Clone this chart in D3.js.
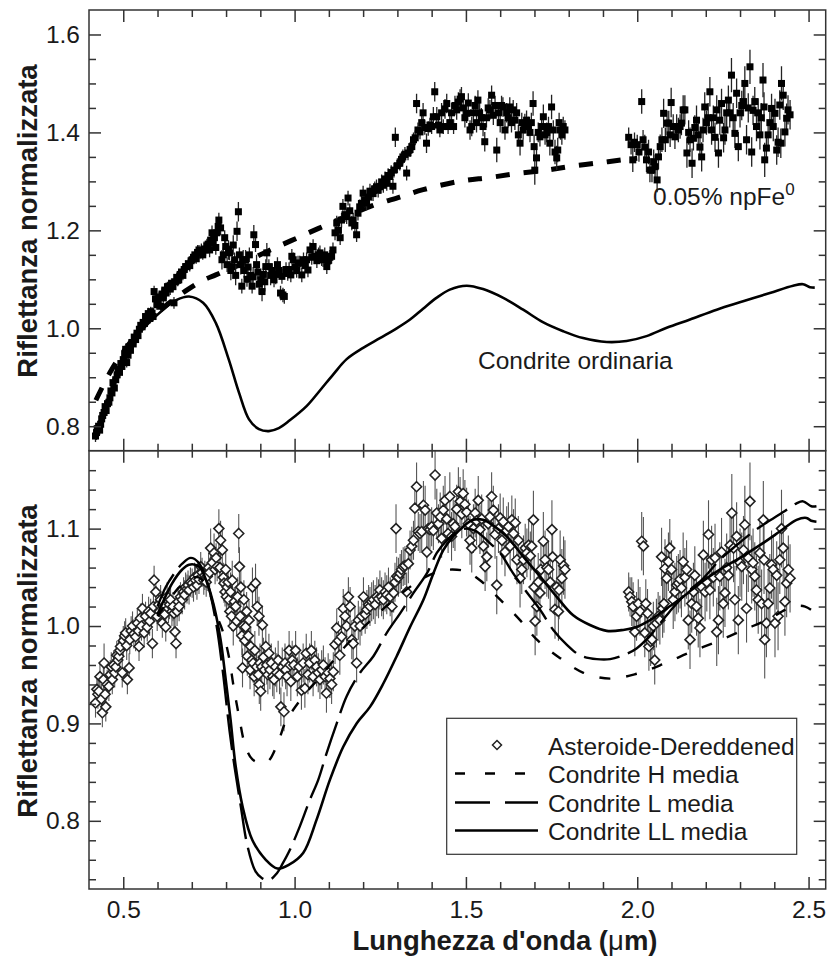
<!DOCTYPE html>
<html><head><meta charset="utf-8">
<script src="https://cdn.jsdelivr.net/npm/d3@7"></script>
<style>
body{margin:0;background:#fff}
svg{display:block}
text{font-family:"Liberation Sans",Arial,Helvetica,sans-serif;fill:#1a1a1a}
</style>
</head><body>
<svg id="c" width="827" height="965"></svg>
<script>
// ---------- tick values ----------
const xMajor=[0.5,1.0,1.5,2.0,2.5];
const xMinor=[0.6,0.7,0.8,0.9,1.1,1.2,1.3,1.4,1.6,1.7,1.8,1.9,2.1,2.2,2.3,2.4];
const yTopMajor=[0.8,1.0,1.2,1.4,1.6];
const yTopMinor=[0.85,0.9,0.95,1.05,1.1,1.15,1.25,1.3,1.35,1.45,1.5,1.55];
const yBotMajor=[0.8,0.9,1.0,1.1];
const yBotMinor=[0.74,0.76,0.78,0.82,0.84,0.86,0.88,0.92,0.94,0.96,0.98,1.02,1.04,1.06,1.08,1.12,1.14,1.16];

// ---------- top panel data [x, y, err] ----------
const topAsteroid=[
[0.419,0.780,0.012],[0.422,0.787,0.015],[0.424,0.795,0.01],[0.428,0.800,0.012],[0.431,0.792,0.01],[0.434,0.804,0.012],[0.437,0.815,0.01],[0.440,0.822,0.012],[0.444,0.828,0.01],[0.447,0.840,0.012],[0.450,0.832,0.01],[0.454,0.846,0.012],[0.458,0.849,0.01],[0.461,0.858,0.012],[0.464,0.872,0.01],[0.467,0.868,0.012],[0.470,0.889,0.01],[0.474,0.878,0.012],[0.478,0.895,0.01],[0.482,0.905,0.012],[0.485,0.916,0.01],[0.489,0.910,0.012],[0.493,0.928,0.01],[0.496,0.922,0.012],[0.500,0.936,0.01],[0.504,0.948,0.01],[0.507,0.957,0.012],[0.510,0.930,0.01],[0.514,0.945,0.01],[0.518,0.962,0.012],[0.521,0.955,0.01],[0.525,0.971,0.01],[0.529,0.968,0.012],[0.532,0.982,0.01],[0.536,0.977,0.01],[0.540,0.990,0.012],[0.543,0.985,0.01],[0.547,0.998,0.01],[0.551,1.006,0.012],[0.555,1.003,0.01],[0.558,1.012,0.01],[0.562,1.010,0.012],[0.565,1.024,0.01],[0.569,1.017,0.01],[0.573,1.030,0.012],[0.577,1.020,0.01],[0.580,1.034,0.01],[0.584,1.031,0.012],[0.587,1.024,0.01],[0.590,1.075,0.012],[0.594,1.060,0.01],[0.598,1.048,0.01],[0.602,1.055,0.012],[0.605,1.064,0.01],[0.609,1.045,0.01],[0.613,1.070,0.012],[0.617,1.062,0.01],[0.621,1.078,0.01],[0.625,1.072,0.012],[0.629,1.085,0.01],[0.633,1.086,0.01],[0.637,1.080,0.012],[0.641,1.092,0.01],[0.645,1.085,0.01],[0.648,1.052,0.012],[0.652,1.095,0.01],[0.656,1.104,0.01],[0.659,1.098,0.012],[0.662,1.099,0.01],[0.666,1.110,0.01],[0.670,1.115,0.012],[0.674,1.108,0.01],[0.678,1.120,0.01],[0.682,1.126,0.012],[0.686,1.126,0.01],[0.690,1.132,0.01],[0.694,1.128,0.012],[0.698,1.138,0.01],[0.701,1.140,0.012],[0.705,1.145,0.01],[0.709,1.150,0.012],[0.713,1.142,0.01],[0.717,1.155,0.015],[0.721,1.160,0.01],[0.724,1.154,0.012],[0.728,1.158,0.015],[0.732,1.150,0.01],[0.736,1.162,0.015],[0.740,1.160,0.012],[0.744,1.168,0.015],[0.748,1.172,0.012],[0.752,1.160,0.015],[0.755,1.180,0.015],[0.759,1.195,0.015],[0.762,1.174,0.012],[0.766,1.185,0.015],[0.770,1.165,0.015],[0.773,1.195,0.015],[0.777,1.208,0.015],[0.779,1.221,0.015],[0.784,1.205,0.015],[0.788,1.140,0.02],[0.792,1.150,0.015],[0.796,1.185,0.015],[0.799,1.167,0.02],[0.803,1.130,0.015],[0.807,1.160,0.02],[0.810,1.154,0.015],[0.814,1.118,0.02],[0.817,1.126,0.015],[0.821,1.170,0.02],[0.825,1.140,0.015],[0.828,1.108,0.02],[0.832,1.198,0.02],[0.836,1.238,0.02],[0.839,1.150,0.015],[0.843,1.130,0.02],[0.846,1.086,0.015],[0.850,1.140,0.02],[0.853,1.118,0.015],[0.857,1.140,0.02],[0.861,1.100,0.015],[0.864,1.125,0.02],[0.868,1.150,0.015],[0.872,1.108,0.02],[0.876,1.086,0.015],[0.879,1.105,0.02],[0.881,1.191,0.02],[0.886,1.171,0.015],[0.889,1.130,0.02],[0.893,1.115,0.015],[0.897,1.090,0.02],[0.901,1.099,0.015],[0.905,1.075,0.02],[0.909,1.110,0.015],[0.913,1.095,0.02],[0.916,1.126,0.015],[0.919,1.154,0.02],[0.925,1.126,0.015],[0.930,1.108,0.02],[0.935,1.118,0.015],[0.940,1.099,0.015],[0.945,1.110,0.02],[0.950,1.130,0.015],[0.955,1.118,0.015],[0.959,1.072,0.015],[0.963,1.106,0.015],[0.966,1.068,0.015],[0.970,1.065,0.015],[0.975,1.120,0.015],[0.980,1.112,0.015],[0.984,1.120,0.015],[0.989,1.109,0.015],[0.992,1.147,0.015],[0.996,1.140,0.015],[1.001,1.125,0.015],[1.006,1.118,0.015],[1.010,1.133,0.015],[1.015,1.133,0.015],[1.021,1.109,0.015],[1.026,1.140,0.015],[1.031,1.128,0.015],[1.035,1.140,0.015],[1.039,1.119,0.015],[1.045,1.160,0.015],[1.050,1.145,0.015],[1.054,1.167,0.015],[1.060,1.147,0.015],[1.065,1.138,0.015],[1.070,1.150,0.015],[1.074,1.154,0.015],[1.079,1.142,0.015],[1.083,1.140,0.015],[1.088,1.150,0.015],[1.094,1.126,0.015],[1.098,1.138,0.015],[1.103,1.145,0.015],[1.108,1.147,0.015],[1.112,1.160,0.015],[1.118,1.195,0.015],[1.123,1.215,0.015],[1.128,1.200,0.015],[1.133,1.185,0.015],[1.137,1.221,0.015],[1.141,1.249,0.015],[1.147,1.232,0.015],[1.152,1.228,0.015],[1.156,1.266,0.015],[1.161,1.240,0.015],[1.167,1.215,0.015],[1.171,1.221,0.015],[1.176,1.210,0.015],[1.181,1.191,0.015],[1.185,1.235,0.015],[1.190,1.248,0.015],[1.195,1.255,0.015],[1.200,1.276,0.015],[1.205,1.262,0.015],[1.210,1.256,0.015],[1.215,1.268,0.015],[1.220,1.280,0.015],[1.225,1.276,0.015],[1.229,1.275,0.015],[1.234,1.285,0.015],[1.239,1.289,0.015],[1.244,1.282,0.015],[1.249,1.289,0.015],[1.254,1.299,0.015],[1.259,1.292,0.015],[1.264,1.305,0.015],[1.269,1.296,0.015],[1.273,1.312,0.015],[1.278,1.310,0.015],[1.282,1.318,0.015],[1.287,1.290,0.015],[1.290,1.323,0.015],[1.294,1.390,0.02],[1.300,1.332,0.015],[1.307,1.337,0.015],[1.312,1.345,0.015],[1.316,1.350,0.015],[1.322,1.355,0.015],[1.327,1.317,0.015],[1.331,1.358,0.015],[1.337,1.365,0.015],[1.342,1.371,0.015],[1.347,1.385,0.015],[1.352,1.389,0.015],[1.356,1.459,0.02],[1.360,1.405,0.015],[1.366,1.401,0.015],[1.371,1.420,0.015],[1.375,1.440,0.02],[1.380,1.410,0.015],[1.385,1.378,0.02],[1.390,1.408,0.015],[1.395,1.415,0.015],[1.400,1.412,0.015],[1.405,1.432,0.02],[1.409,1.483,0.02],[1.415,1.432,0.02],[1.420,1.415,0.015],[1.424,1.405,0.015],[1.429,1.440,0.02],[1.434,1.412,0.015],[1.439,1.448,0.02],[1.444,1.459,0.02],[1.448,1.412,0.015],[1.453,1.420,0.015],[1.458,1.440,0.02],[1.464,1.412,0.015],[1.468,1.455,0.02],[1.473,1.446,0.02],[1.478,1.462,0.02],[1.483,1.468,0.02],[1.487,1.473,0.02],[1.492,1.450,0.02],[1.497,1.430,0.02],[1.502,1.439,0.02],[1.507,1.460,0.02],[1.512,1.405,0.02],[1.517,1.412,0.02],[1.522,1.440,0.02],[1.527,1.455,0.02],[1.531,1.420,0.02],[1.535,1.466,0.02],[1.540,1.440,0.02],[1.545,1.430,0.02],[1.550,1.412,0.02],[1.555,1.381,0.02],[1.560,1.430,0.02],[1.565,1.450,0.02],[1.570,1.446,0.02],[1.575,1.476,0.02],[1.580,1.435,0.02],[1.585,1.455,0.02],[1.590,1.364,0.025],[1.595,1.440,0.02],[1.600,1.420,0.02],[1.604,1.455,0.02],[1.608,1.452,0.02],[1.614,1.405,0.02],[1.619,1.440,0.02],[1.623,1.430,0.02],[1.628,1.452,0.02],[1.633,1.420,0.02],[1.638,1.446,0.02],[1.643,1.425,0.02],[1.648,1.440,0.02],[1.653,1.395,0.02],[1.658,1.378,0.025],[1.663,1.420,0.02],[1.667,1.405,0.02],[1.672,1.418,0.02],[1.677,1.425,0.02],[1.682,1.412,0.02],[1.687,1.400,0.02],[1.691,1.420,0.02],[1.696,1.459,0.025],[1.699,1.371,0.025],[1.701,1.323,0.03],[1.706,1.348,0.025],[1.711,1.400,0.02],[1.716,1.391,0.02],[1.721,1.412,0.02],[1.726,1.432,0.025],[1.731,1.395,0.02],[1.736,1.400,0.02],[1.741,1.412,0.02],[1.745,1.378,0.025],[1.750,1.452,0.025],[1.755,1.405,0.02],[1.760,1.360,0.025],[1.765,1.348,0.025],[1.768,1.364,0.025],[1.772,1.420,0.02],[1.776,1.405,0.02],[1.780,1.395,0.02],[1.784,1.412,0.02],[1.789,1.405,0.02],
[1.975,1.390,0.02],[1.982,1.375,0.02],[1.987,1.344,0.025],[1.992,1.380,0.02],[2.000,1.375,0.02],[2.005,1.360,0.02],[2.013,1.463,0.025],[2.017,1.385,0.02],[2.022,1.370,0.025],[2.027,1.344,0.025],[2.033,1.360,0.025],[2.037,1.323,0.025],[2.043,1.323,0.025],[2.048,1.340,0.025],[2.052,1.330,0.025],[2.058,1.303,0.025],[2.062,1.350,0.025],[2.067,1.371,0.025],[2.072,1.385,0.025],[2.077,1.439,0.03],[2.082,1.385,0.025],[2.087,1.419,0.025],[2.092,1.419,0.025],[2.096,1.395,0.025],[2.099,1.461,0.03],[2.105,1.412,0.025],[2.110,1.391,0.025],[2.115,1.412,0.025],[2.120,1.405,0.025],[2.125,1.412,0.025],[2.129,1.419,0.025],[2.134,1.446,0.03],[2.139,1.446,0.03],[2.145,1.358,0.03],[2.150,1.400,0.025],[2.154,1.385,0.025],[2.160,1.337,0.03],[2.164,1.388,0.025],[2.168,1.410,0.025],[2.173,1.425,0.03],[2.178,1.395,0.025],[2.183,1.370,0.025],[2.188,1.350,0.03],[2.192,1.405,0.025],[2.197,1.452,0.03],[2.202,1.420,0.025],[2.207,1.430,0.03],[2.212,1.483,0.03],[2.217,1.405,0.03],[2.222,1.430,0.025],[2.227,1.390,0.03],[2.232,1.446,0.03],[2.237,1.358,0.03],[2.241,1.425,0.03],[2.246,1.459,0.03],[2.252,1.389,0.03],[2.256,1.405,0.03],[2.261,1.440,0.03],[2.266,1.466,0.03],[2.270,1.440,0.03],[2.275,1.517,0.035],[2.280,1.430,0.03],[2.285,1.398,0.03],[2.290,1.480,0.03],[2.295,1.371,0.03],[2.300,1.440,0.03],[2.305,1.455,0.03],[2.310,1.463,0.03],[2.314,1.500,0.035],[2.319,1.385,0.03],[2.324,1.450,0.03],[2.329,1.534,0.035],[2.334,1.360,0.03],[2.338,1.445,0.03],[2.343,1.463,0.03],[2.348,1.412,0.03],[2.353,1.440,0.03],[2.358,1.395,0.03],[2.362,1.430,0.03],[2.367,1.507,0.035],[2.370,1.452,0.03],[2.372,1.344,0.035],[2.377,1.368,0.03],[2.382,1.395,0.03],[2.387,1.420,0.03],[2.392,1.449,0.03],[2.397,1.412,0.03],[2.402,1.439,0.03],[2.407,1.364,0.03],[2.411,1.380,0.03],[2.416,1.456,0.03],[2.419,1.378,0.03],[2.421,1.500,0.035],[2.426,1.476,0.03],[2.431,1.401,0.03],[2.436,1.429,0.03],[2.440,1.446,0.03],[2.446,1.436,0.03]
];
const topChondrite=[[0.58,1.015],[0.62,1.040],[0.656,1.058],[0.692,1.065],[0.733,1.052],[0.770,1.011],[0.808,0.936],[0.838,0.868],[0.867,0.814],[0.896,0.794],[0.925,0.790],[0.954,0.796],[0.986,0.812],[1.035,0.841],[1.074,0.873],[1.113,0.906],[1.152,0.937],[1.200,0.960],[1.249,0.980],[1.298,1.000],[1.337,1.018],[1.375,1.040],[1.414,1.062],[1.453,1.079],[1.502,1.087],[1.550,1.080],[1.609,1.062],[1.667,1.038],[1.726,1.012],[1.784,0.994],[1.842,0.980],[1.911,0.972],[1.969,0.974],[2.027,0.984],[2.086,1.001],[2.154,1.018],[2.232,1.038],[2.309,1.055],[2.387,1.072],[2.455,1.087],[2.484,1.090],[2.504,1.084],[2.518,1.083]];
const topNpFe=[[0.42,0.853],[0.46,0.908],[0.50,0.952],[0.55,0.996],[0.60,1.032],[0.65,1.060],[0.69,1.080],[0.73,1.097],[0.77,1.109],[0.85,1.133],[0.92,1.157],[0.99,1.179],[1.07,1.204],[1.15,1.228],[1.225,1.250],[1.307,1.268],[1.375,1.283],[1.48,1.300],[1.57,1.308],[1.65,1.316],[1.726,1.322],[1.80,1.330],[1.89,1.338],[1.97,1.345],[2.00,1.347]];

// ---------- bottom panel data ----------
const botAsteroid=[
[0.419,0.921,0.015],[0.423,0.935,0.015],[0.426,0.930,0.015],[0.429,0.933,0.015],[0.432,0.948,0.015],[0.436,0.925,0.015],[0.439,0.911,0.015],[0.442,0.945,0.015],[0.444,0.962,0.02],[0.447,0.930,0.015],[0.449,0.917,0.015],[0.453,0.940,0.015],[0.458,0.938,0.015],[0.462,0.950,0.015],[0.465,0.958,0.015],[0.468,0.945,0.015],[0.472,0.960,0.015],[0.475,0.952,0.015],[0.478,0.958,0.015],[0.481,0.970,0.015],[0.484,0.965,0.015],[0.487,0.969,0.015],[0.490,0.975,0.015],[0.492,0.979,0.015],[0.497,0.952,0.015],[0.500,0.985,0.015],[0.504,0.990,0.015],[0.507,0.993,0.015],[0.510,0.980,0.015],[0.512,0.945,0.015],[0.517,0.957,0.015],[0.519,0.986,0.015],[0.523,0.995,0.015],[0.527,1.000,0.015],[0.531,0.992,0.015],[0.536,0.989,0.015],[0.541,1.003,0.015],[0.544,0.995,0.015],[0.546,0.979,0.015],[0.550,1.008,0.015],[0.553,1.000,0.015],[0.556,1.018,0.015],[0.561,0.993,0.015],[0.565,1.010,0.015],[0.570,0.999,0.015],[0.574,1.015,0.015],[0.577,1.005,0.015],[0.580,1.013,0.015],[0.585,0.982,0.015],[0.588,1.020,0.015],[0.590,1.047,0.015],[0.595,1.035,0.015],[0.599,1.010,0.015],[0.603,1.022,0.015],[0.606,1.015,0.015],[0.609,1.027,0.015],[0.614,1.003,0.015],[0.618,1.020,0.015],[0.621,1.012,0.015],[0.624,0.999,0.015],[0.628,1.030,0.015],[0.632,1.018,0.015],[0.635,1.022,0.015],[0.638,1.027,0.015],[0.642,1.015,0.015],[0.645,1.020,0.015],[0.648,1.013,0.015],[0.651,0.994,0.015],[0.654,0.982,0.015],[0.657,1.015,0.015],[0.660,1.025,0.015],[0.663,1.020,0.015],[0.667,1.030,0.015],[0.672,1.027,0.015],[0.676,1.035,0.015],[0.679,1.032,0.015],[0.682,1.040,0.015],[0.686,1.038,0.015],[0.689,1.042,0.015],[0.692,1.037,0.015],[0.696,1.045,0.015],[0.701,1.044,0.015],[0.705,1.040,0.015],[0.708,1.050,0.015],[0.711,1.047,0.015],[0.715,1.042,0.015],[0.718,1.052,0.015],[0.721,1.048,0.015],[0.726,1.061,0.015],[0.730,1.055,0.015],[0.735,1.047,0.015],[0.738,1.052,0.015],[0.742,1.045,0.015],[0.745,1.051,0.015],[0.749,1.060,0.015],[0.752,1.055,0.015],[0.755,1.080,0.02],[0.760,1.065,0.015],[0.765,1.075,0.02],[0.768,1.058,0.015],[0.771,1.070,0.015],[0.774,1.061,0.015],[0.779,1.100,0.02],[0.782,1.060,0.015],[0.784,1.088,0.02],[0.789,1.078,0.02],[0.792,1.050,0.015],[0.794,1.044,0.02],[0.797,1.035,0.015],[0.799,1.058,0.02],[0.801,1.030,0.015],[0.803,1.040,0.02],[0.806,1.045,0.015],[0.808,1.027,0.02],[0.811,1.015,0.015],[0.813,1.035,0.02],[0.816,1.010,0.015],[0.818,1.047,0.02],[0.821,1.000,0.02],[0.824,1.025,0.015],[0.828,1.020,0.02],[0.831,1.005,0.015],[0.834,1.030,0.02],[0.837,1.095,0.02],[0.839,1.061,0.02],[0.841,1.010,0.02],[0.843,1.040,0.02],[0.846,0.990,0.02],[0.848,0.957,0.02],[0.850,1.000,0.02],[0.852,1.027,0.02],[0.855,0.985,0.02],[0.857,0.999,0.02],[0.860,1.015,0.02],[0.862,0.969,0.02],[0.865,0.990,0.02],[0.867,1.006,0.02],[0.870,0.955,0.02],[0.872,0.979,0.02],[0.875,0.965,0.02],[0.877,1.040,0.02],[0.879,0.962,0.02],[0.882,0.948,0.02],[0.884,0.975,0.02],[0.886,1.044,0.02],[0.889,0.958,0.02],[0.891,1.020,0.02],[0.894,0.950,0.02],[0.896,1.010,0.02],[0.897,0.940,0.02],[0.899,0.962,0.02],[0.901,0.933,0.02],[0.904,0.958,0.02],[0.906,1.001,0.02],[0.909,0.968,0.02],[0.912,0.955,0.02],[0.916,0.979,0.02],[0.919,0.960,0.02],[0.922,0.950,0.02],[0.925,0.972,0.02],[0.928,0.955,0.02],[0.932,0.962,0.02],[0.936,0.948,0.02],[0.940,0.945,0.02],[0.944,0.958,0.02],[0.948,0.952,0.02],[0.952,0.965,0.02],[0.956,0.950,0.02],[0.960,0.917,0.02],[0.964,0.958,0.02],[0.969,0.912,0.02],[0.972,0.962,0.02],[0.974,0.955,0.02],[0.978,0.948,0.02],[0.984,0.975,0.02],[0.987,0.960,0.02],[0.989,0.943,0.02],[0.993,0.965,0.02],[0.998,0.960,0.02],[1.003,0.975,0.02],[1.008,0.948,0.02],[1.013,0.958,0.02],[1.020,0.934,0.02],[1.025,0.962,0.02],[1.030,0.936,0.02],[1.034,0.972,0.02],[1.039,0.950,0.02],[1.044,0.962,0.02],[1.049,0.975,0.02],[1.054,0.948,0.02],[1.059,0.965,0.02],[1.064,0.958,0.02],[1.069,0.952,0.02],[1.074,0.945,0.02],[1.079,0.955,0.02],[1.084,0.960,0.02],[1.089,0.948,0.02],[1.093,0.931,0.02],[1.098,0.952,0.02],[1.103,0.946,0.02],[1.108,0.940,0.02],[1.113,0.953,0.02],[1.118,0.981,0.02],[1.123,0.998,0.02],[1.128,0.985,0.02],[1.132,0.970,0.02],[1.137,0.989,0.02],[1.142,1.018,0.02],[1.147,1.010,0.02],[1.152,1.000,0.02],[1.157,1.030,0.02],[1.162,1.020,0.02],[1.167,0.986,0.02],[1.171,0.982,0.02],[1.176,1.000,0.02],[1.181,0.962,0.02],[1.186,1.006,0.02],[1.191,1.000,0.02],[1.196,1.010,0.02],[1.201,1.030,0.02],[1.206,1.012,0.02],[1.211,1.017,0.02],[1.216,1.022,0.02],[1.220,1.020,0.02],[1.225,1.025,0.02],[1.230,1.027,0.02],[1.235,1.022,0.02],[1.240,1.030,0.02],[1.245,1.028,0.02],[1.249,1.037,0.02],[1.254,1.030,0.02],[1.259,1.027,0.02],[1.264,1.035,0.02],[1.269,1.032,0.02],[1.274,1.040,0.02],[1.279,1.030,0.02],[1.284,1.020,0.02],[1.289,1.034,0.02],[1.293,1.045,0.02],[1.296,1.100,0.025],[1.298,1.051,0.02],[1.303,1.050,0.02],[1.308,1.054,0.02],[1.312,1.058,0.02],[1.317,1.061,0.02],[1.322,1.062,0.02],[1.327,1.035,0.02],[1.332,1.064,0.02],[1.337,1.078,0.02],[1.342,1.082,0.02],[1.347,1.088,0.02],[1.351,1.121,0.025],[1.356,1.143,0.025],[1.361,1.097,0.02],[1.366,1.095,0.02],[1.371,1.097,0.02],[1.376,1.124,0.025],[1.381,1.119,0.025],[1.386,1.076,0.02],[1.390,1.100,0.02],[1.395,1.099,0.02],[1.400,1.102,0.02],[1.405,1.098,0.02],[1.410,1.155,0.025],[1.415,1.116,0.025],[1.420,1.105,0.02],[1.425,1.112,0.025],[1.429,1.090,0.02],[1.434,1.119,0.025],[1.439,1.129,0.025],[1.444,1.110,0.025],[1.448,1.095,0.02],[1.453,1.133,0.025],[1.458,1.092,0.025],[1.463,1.105,0.025],[1.468,1.102,0.025],[1.473,1.120,0.025],[1.478,1.138,0.025],[1.483,1.128,0.025],[1.488,1.115,0.025],[1.492,1.136,0.025],[1.497,1.125,0.025],[1.502,1.117,0.025],[1.507,1.105,0.025],[1.512,1.088,0.025],[1.517,1.080,0.025],[1.522,1.100,0.025],[1.527,1.116,0.025],[1.531,1.108,0.025],[1.536,1.129,0.025],[1.541,1.099,0.025],[1.546,1.110,0.025],[1.551,1.082,0.025],[1.556,1.061,0.025],[1.561,1.071,0.025],[1.565,1.105,0.025],[1.570,1.112,0.025],[1.575,1.133,0.025],[1.580,1.119,0.025],[1.585,1.094,0.025],[1.590,1.042,0.03],[1.595,1.100,0.025],[1.600,1.111,0.025],[1.605,1.088,0.025],[1.609,1.107,0.025],[1.614,1.076,0.025],[1.619,1.098,0.025],[1.624,1.102,0.025],[1.629,1.082,0.025],[1.634,1.109,0.025],[1.639,1.095,0.025],[1.644,1.106,0.025],[1.649,1.068,0.025],[1.653,1.088,0.025],[1.658,1.049,0.03],[1.663,1.058,0.025],[1.668,1.068,0.025],[1.673,1.080,0.025],[1.678,1.075,0.025],[1.683,1.083,0.025],[1.688,1.072,0.025],[1.692,1.082,0.025],[1.697,1.109,0.03],[1.699,1.040,0.03],[1.702,1.005,0.035],[1.707,1.020,0.03],[1.711,1.045,0.03],[1.716,1.034,0.03],[1.719,1.058,0.03],[1.726,1.087,0.03],[1.731,1.068,0.03],[1.736,1.060,0.03],[1.741,1.058,0.03],[1.746,1.045,0.03],[1.751,1.099,0.03],[1.753,1.071,0.03],[1.760,1.017,0.03],[1.765,1.040,0.03],[1.770,1.015,0.03],[1.772,1.037,0.03],[1.775,1.068,0.03],[1.780,1.049,0.03],[1.785,1.062,0.03],[1.789,1.058,0.03],
[1.975,1.035,0.02],[1.979,1.030,0.02],[1.984,1.025,0.025],[1.988,1.020,0.025],[1.993,0.994,0.025],[1.998,1.010,0.025],[2.003,1.023,0.025],[2.008,1.015,0.025],[2.013,1.087,0.03],[2.018,1.082,0.03],[2.022,0.993,0.025],[2.025,1.023,0.025],[2.030,1.013,0.025],[2.034,0.979,0.025],[2.039,0.984,0.025],[2.043,0.986,0.025],[2.047,1.000,0.025],[2.051,0.965,0.025],[2.056,1.003,0.025],[2.061,1.010,0.025],[2.066,1.006,0.025],[2.071,1.071,0.03],[2.074,1.018,0.03],[2.078,1.023,0.03],[2.081,1.059,0.03],[2.086,1.049,0.03],[2.091,1.066,0.03],[2.095,1.080,0.03],[2.100,1.058,0.03],[2.105,1.027,0.03],[2.110,1.035,0.03],[2.115,1.042,0.03],[2.120,1.044,0.03],[2.125,1.048,0.03],[2.129,1.039,0.03],[2.134,1.066,0.03],[2.139,1.050,0.03],[2.144,1.058,0.03],[2.149,1.006,0.03],[2.154,0.986,0.03],[2.159,1.023,0.03],[2.164,1.035,0.03],[2.168,1.052,0.03],[2.173,1.020,0.03],[2.178,1.008,0.03],[2.183,0.998,0.03],[2.188,1.040,0.03],[2.193,1.073,0.035],[2.198,1.035,0.03],[2.203,1.045,0.03],[2.208,1.094,0.035],[2.212,1.037,0.03],[2.217,1.068,0.035],[2.222,1.050,0.03],[2.227,1.070,0.035],[2.232,0.994,0.035],[2.237,1.006,0.035],[2.241,1.051,0.035],[2.246,1.076,0.035],[2.251,1.023,0.035],[2.256,1.034,0.035],[2.261,1.060,0.035],[2.266,1.052,0.035],[2.271,1.083,0.035],[2.276,1.116,0.04],[2.281,1.080,0.035],[2.285,1.027,0.035],[2.290,1.092,0.035],[2.295,1.006,0.035],[2.300,1.065,0.035],[2.305,1.061,0.035],[2.310,1.078,0.035],[2.314,1.104,0.04],[2.319,1.018,0.035],[2.324,1.070,0.035],[2.329,1.128,0.04],[2.334,1.058,0.035],[2.338,1.065,0.035],[2.343,1.051,0.035],[2.348,1.037,0.035],[2.353,1.027,0.035],[2.358,1.075,0.035],[2.363,1.023,0.035],[2.368,1.109,0.04],[2.370,1.068,0.035],[2.372,0.986,0.04],[2.377,1.003,0.035],[2.382,1.023,0.035],[2.387,1.039,0.035],[2.392,1.063,0.035],[2.397,1.058,0.035],[2.402,1.003,0.035],[2.407,1.052,0.035],[2.411,1.010,0.035],[2.416,1.068,0.035],[2.421,1.100,0.04],[2.426,1.080,0.035],[2.431,1.025,0.035],[2.436,1.044,0.035],[2.441,1.058,0.035],[2.446,1.049,0.035]
];
const botH=[[0.60,1.010],[0.64,1.030],[0.68,1.045],[0.72,1.050],[0.75,1.035],[0.77,1.013],[0.789,0.996],[0.808,0.969],[0.822,0.938],[0.838,0.907],[0.857,0.876],[0.877,0.863],[0.906,0.859],[0.925,0.862],[0.954,0.883],[0.974,0.902],[0.996,0.914],[1.03,0.930],[1.08,0.950],[1.15,0.980],[1.22,1.005],[1.30,1.030],[1.37,1.048],[1.42,1.056],[1.46,1.058],[1.50,1.056],[1.541,1.047],[1.60,1.027],[1.658,1.006],[1.707,0.986],[1.775,0.967],[1.843,0.952],[1.921,0.946],[1.998,0.951],[2.076,0.961],[2.154,0.973],[2.232,0.984],[2.31,0.996],[2.377,1.006],[2.455,1.020],[2.49,1.020],[2.514,1.015]];
const botL=[[0.60,1.020],[0.624,1.040],[0.653,1.056],[0.672,1.064],[0.697,1.070],[0.72,1.065],[0.745,1.045],[0.77,1.005],[0.79,0.955],[0.81,0.893],[0.825,0.855],[0.843,0.815],[0.862,0.775],[0.886,0.748],[0.905,0.741],[0.925,0.739],[0.948,0.746],[0.965,0.756],[0.986,0.770],[1.015,0.794],[1.044,0.821],[1.069,0.842],[1.093,0.869],[1.123,0.900],[1.152,0.928],[1.191,0.952],[1.23,0.969],[1.269,0.993],[1.308,1.013],[1.347,1.034],[1.386,1.054],[1.415,1.075],[1.444,1.088],[1.473,1.097],[1.502,1.100],[1.531,1.097],[1.57,1.085],[1.60,1.075],[1.638,1.054],[1.677,1.035],[1.716,1.017],[1.755,0.996],[1.794,0.981],[1.833,0.970],[1.882,0.966],[1.921,0.966],[1.959,0.970],[1.998,0.977],[2.037,0.990],[2.095,1.015],[2.144,1.034],[2.193,1.049],[2.241,1.068],[2.29,1.083],[2.339,1.097],[2.377,1.106],[2.426,1.117],[2.465,1.126],[2.484,1.128],[2.508,1.123],[2.523,1.123]];
const botLL=[[0.60,1.012],[0.643,1.044],[0.672,1.058],[0.692,1.063],[0.721,1.061],[0.745,1.044],[0.765,1.020],[0.784,0.986],[0.799,0.945],[0.813,0.904],[0.828,0.856],[0.848,0.815],[0.877,0.780],[0.916,0.760],[0.95,0.751],[0.984,0.755],[1.025,0.767],[1.064,0.801],[1.103,0.842],[1.142,0.876],[1.181,0.900],[1.22,0.917],[1.259,0.941],[1.298,0.969],[1.337,0.999],[1.376,1.027],[1.405,1.054],[1.434,1.078],[1.463,1.092],[1.492,1.102],[1.521,1.109],[1.55,1.109],[1.58,1.103],[1.619,1.092],[1.668,1.071],[1.716,1.051],[1.765,1.030],[1.813,1.011],[1.862,1.001],[1.911,0.995],[1.959,0.996],[1.998,0.999],[2.037,1.006],[2.086,1.018],[2.134,1.030],[2.183,1.044],[2.241,1.058],[2.30,1.070],[2.358,1.083],[2.416,1.097],[2.465,1.109],[2.494,1.111],[2.508,1.108],[2.523,1.107]];

const legendLabels=["Asteroide-Dereddened","Condrite H media","Condrite L media","Condrite LL media"];

// ---------- layout ----------
const L=89, R=825.7, T1=10, B1=450.7, T2=450.7, B2=889;
const x=d3.scaleLinear().domain([0.4,2.55]).range([L,R]);
const yTop=d3.scaleLinear().domain([0.75,1.65]).range([B1,T1]);
const yBot=d3.scaleLinear().domain([0.73,1.18]).range([B2,T2]);
const svg=d3.select("#c");
const fmt=d3.format(".1f");
const AX="#333";
const FF='"Liberation Sans",Arial,Helvetica,sans-serif';

function styleAxis(g){
  g.select(".domain").remove();
  g.selectAll(".tick line").attr("stroke",AX).attr("stroke-width",1.5);
  g.selectAll(".tick text").attr("font-size",24.5).attr("fill","#1a1a1a").attr("font-family",FF);
}
function panelAxes(y, yMaj, yMin, top, bot, labelsX){
  svg.append("g").attr("transform",`translate(${L},0)`)
    .call(d3.axisLeft(y).tickValues(yMaj).tickSize(-12).tickSizeOuter(0).tickPadding(9).tickFormat(fmt)).call(styleAxis);
  svg.append("g").attr("transform",`translate(${L},0)`)
    .call(d3.axisLeft(y).tickValues(yMin).tickSize(-7).tickSizeOuter(0).tickFormat("")).call(styleAxis);
  svg.append("g").attr("transform",`translate(${R},0)`)
    .call(d3.axisRight(y).tickValues(yMaj).tickSize(-12).tickSizeOuter(0).tickFormat("")).call(styleAxis);
  svg.append("g").attr("transform",`translate(${R},0)`)
    .call(d3.axisRight(y).tickValues(yMin).tickSize(-7).tickSizeOuter(0).tickFormat("")).call(styleAxis);
  svg.append("g").attr("transform",`translate(0,${top})`)
    .call(d3.axisTop(x).tickValues(xMajor).tickSize(-12).tickSizeOuter(0).tickFormat("")).call(styleAxis);
  svg.append("g").attr("transform",`translate(0,${top})`)
    .call(d3.axisTop(x).tickValues(xMinor).tickSize(-7).tickSizeOuter(0).tickFormat("")).call(styleAxis);
  svg.append("g").attr("transform",`translate(0,${bot})`)
    .call(d3.axisBottom(x).tickValues(xMajor).tickSize(-12).tickSizeOuter(0).tickPadding(12).tickFormat(labelsX?fmt:"")).call(styleAxis);
  svg.append("g").attr("transform",`translate(0,${bot})`)
    .call(d3.axisBottom(x).tickValues(xMinor).tickSize(-7).tickSizeOuter(0).tickFormat("")).call(styleAxis);
  svg.append("rect").attr("x",L).attr("y",top).attr("width",R-L).attr("height",bot-top)
    .attr("fill","none").attr("stroke",AX).attr("stroke-width",1.5);
}

// clip paths
const defs=svg.append("defs");
defs.append("clipPath").attr("id","clipTop").append("rect").attr("x",L).attr("y",T1).attr("width",R-L).attr("height",B1-T1);
defs.append("clipPath").attr("id","clipBot").append("rect").attr("x",L).attr("y",T2).attr("width",R-L).attr("height",B2-T2);

// ---------- top panel ----------
const gTop=svg.append("g").attr("clip-path","url(#clipTop)");
const lineTop=d3.line().x(d=>x(d[0])).y(d=>yTop(d[1])).curve(d3.curveCatmullRom);
gTop.append("path").datum(topChondrite).attr("d",lineTop).attr("fill","none").attr("stroke","#000").attr("stroke-width",2.6);
gTop.append("path").datum(topNpFe).attr("d",lineTop).attr("fill","none").attr("stroke","#000").attr("stroke-width",5).attr("stroke-dasharray","14,14");
gTop.selectAll("line.eb").data(topAsteroid).join("line").attr("class","eb")
  .attr("x1",d=>x(d[0])).attr("x2",d=>x(d[0])).attr("y1",d=>yTop(d[1]-d[2])).attr("y2",d=>yTop(d[1]+d[2]))
  .attr("stroke","#222").attr("stroke-width",1.3);
gTop.selectAll("rect.pt").data(topAsteroid).join("rect").attr("class","pt")
  .attr("x",d=>x(d[0])-3.5).attr("y",d=>yTop(d[1])-3.5).attr("width",7).attr("height",7).attr("fill","#000");

// ---------- bottom panel ----------
const gBot=svg.append("g").attr("clip-path","url(#clipBot)");
const lineBot=d3.line().x(d=>x(d[0])).y(d=>yBot(d[1])).curve(d3.curveCatmullRom);
const diamond="M0,-5L5,0L0,5L-5,0Z";
gBot.selectAll("line.eb").data(botAsteroid).join("line").attr("class","eb")
  .attr("x1",d=>x(d[0])).attr("x2",d=>x(d[0])).attr("y1",d=>yBot(d[1]-d[2])).attr("y2",d=>yBot(d[1]+d[2]))
  .attr("stroke","#555").attr("stroke-width",1.1);
gBot.selectAll("path.pt").data(botAsteroid).join("path").attr("class","pt")
  .attr("transform",d=>`translate(${x(d[0])},${yBot(d[1])})`).attr("d",diamond)
  .attr("fill","#fff").attr("stroke","#222").attr("stroke-width",1.6);
gBot.append("path").datum(botH).attr("d",lineBot).attr("fill","none").attr("stroke","#000").attr("stroke-width",2.4).attr("stroke-dasharray","11,16");
gBot.append("path").datum(botL).attr("d",lineBot).attr("fill","none").attr("stroke","#000").attr("stroke-width",2.4).attr("stroke-dasharray","36,9");
gBot.append("path").datum(botLL).attr("d",lineBot).attr("fill","none").attr("stroke","#000").attr("stroke-width",2.6);

// axes
panelAxes(yTop,yTopMajor,yTopMinor,T1,B1,false);
panelAxes(yBot,yBotMajor,yBotMinor,T2,B2,true);

// ---------- titles ----------
svg.append("text").attr("transform","translate(37,221) rotate(-90)").attr("text-anchor","middle")
  .attr("font-size",27.5).attr("font-weight","bold").attr("font-family",FF).text("Riflettanza normalizzata");
svg.append("text").attr("transform","translate(37,661) rotate(-90)").attr("text-anchor","middle")
  .attr("font-size",27.5).attr("font-weight","bold").attr("font-family",FF).text("Riflettanza normalizzata");
const xt=svg.append("text").attr("x",505).attr("y",950).attr("text-anchor","middle")
  .attr("font-size",27.5).attr("font-weight","bold").attr("font-family",FF);
xt.append("tspan").text("Lunghezza d'onda (");
xt.append("tspan").attr("font-weight","normal").text("μ");
xt.append("tspan").text("m)");

// annotations
const an=svg.append("text").attr("x",653).attr("y",205).attr("font-size",24.5).attr("font-family",FF);
an.append("tspan").text("0.05% npFe");
an.append("tspan").attr("font-size",17).attr("dy",-10).text("0");
svg.append("text").attr("x",478).attr("y",369).attr("font-size",24.5).attr("font-family",FF).text("Condrite ordinaria");

// ---------- legend ----------
const lg=svg.append("g");
lg.append("rect").attr("x",446.7).attr("y",718.3).attr("width",350).attr("height",136)
  .attr("fill","#fff").attr("stroke",AX).attr("stroke-width",1.2);
const rows=[755,783,812,840];
lg.append("path").attr("transform","translate(497,745)").attr("d","M0,-4.5L4.5,0L0,4.5L-4.5,0Z")
  .attr("fill","#fff").attr("stroke","#222").attr("stroke-width",1.5);
const dashes=["10,20","35,15",null];
[1,2,3].forEach(i=>{
  const ln=lg.append("line").attr("x1",455).attr("x2",538).attr("y1",rows[i]-9.5).attr("y2",rows[i]-9.5)
    .attr("stroke","#000").attr("stroke-width",2.4);
  if(dashes[i-1]) ln.attr("stroke-dasharray",dashes[i-1]);
});
legendLabels.forEach((t,i)=>{
  lg.append("text").attr("x",548).attr("y",rows[i]).attr("font-size",24.5).attr("font-family",FF).text(t);
});
</script>
</body></html>
